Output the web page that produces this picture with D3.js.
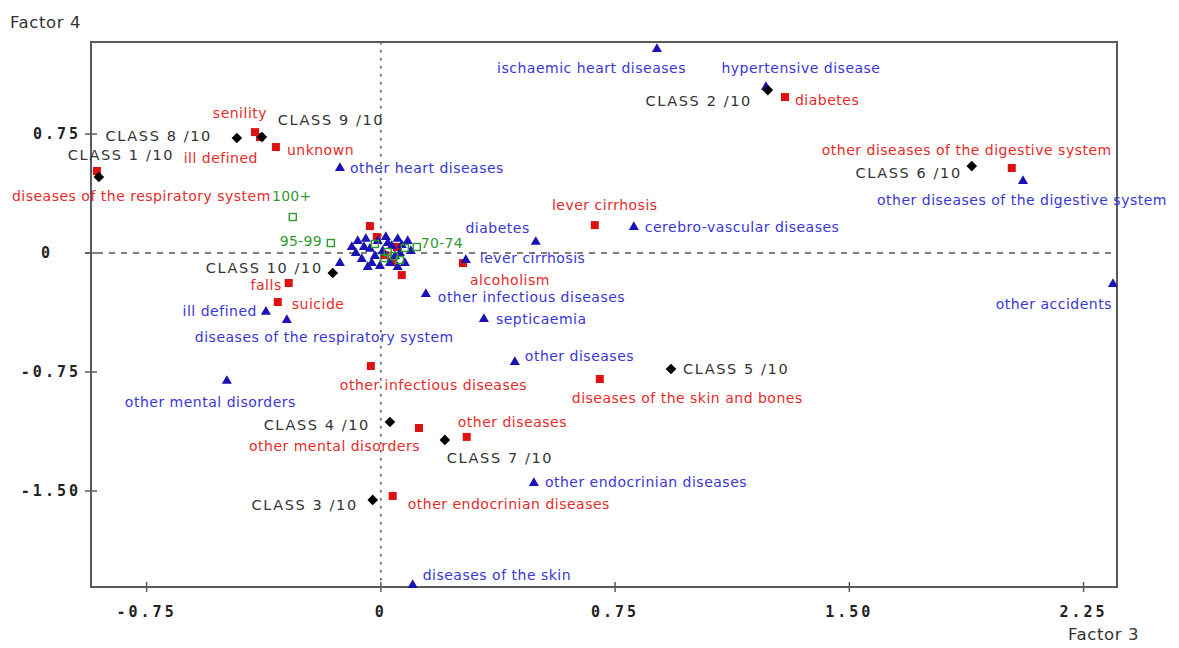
<!DOCTYPE html>
<html>
<head>
<meta charset="utf-8">
<script src="https://cdn.jsdelivr.net/npm/d3@7/dist/d3.min.js"></script>
<style>
  html, body { margin: 0; padding: 0; background: #fff; }
  svg { display: block; }
</style>
</head>
<body>
<svg id="chart" width="1179" height="648"></svg>
<script>
// ---- Data: factorial map, Factor 3 (horizontal) x Factor 4 (vertical) ----

// Classes (black diamonds)
const classNames = ["CLASS 1 /10", "CLASS 2 /10", "CLASS 3 /10", "CLASS 4 /10", "CLASS 5 /10",
                    "CLASS 6 /10", "CLASS 7 /10", "CLASS 8 /10", "CLASS 9 /10", "CLASS 10 /10"];
const classX = [-0.903, 1.239, -0.026, 0.029, 0.929, 1.892, 0.205, -0.461, -0.381, -0.154];
const classY = [0.479, 1.027, -1.556, -1.065, -0.731, 0.548, -1.178, 0.725, 0.731, -0.126];

// Causes of death, first set (red squares)
const redNames = ["senility", "ill defined", "unknown", "diseases of the respiratory system", "diabetes",
                  "other diseases of the digestive system", "lever cirrhosis", "alcoholism", "falls", "suicide",
                  "other infectious diseases", "diseases of the skin and bones", "other diseases",
                  "other mental disorders", "other endocrinian diseases",
                  "", "", "", "", "", ""];
const redX = [-0.403, -0.387, -0.336, -0.909, 1.294, 2.020, 0.685, 0.263, -0.295, -0.330,
              -0.032, 0.701, 0.275, 0.122, 0.038,
              -0.035, 0.067, -0.013, 0.013, 0.035, 0.051];
const redY = [0.762, 0.731, 0.668, 0.517, 0.983, 0.536, 0.176, -0.063, -0.189, -0.309,
              -0.712, -0.794, -1.159, -1.103, -1.531,
              0.170, -0.139, 0.101, -0.013, -0.057, 0.038];

// Causes of death, second set (blue triangles)
const blueNames = ["ischaemic heart diseases", "hypertensive disease", "other heart diseases",
                   "other diseases of the digestive system", "diabetes", "cerebro-vascular diseases",
                   "lever cirrhosis", "other accidents", "other infectious diseases", "septicaemia",
                   "ill defined", "diseases of the respiratory system", "other diseases",
                   "other mental disorders", "other endocrinian diseases", "diseases of the skin",
                   "", "", "", "", "", "", "", "", "", "", "", "", "", "", "", "", "", "", "",
                   "", "", "", "", "", "", ""];
const blueX = [0.884, 1.233, -0.131, 2.056, 0.496, 0.810, 0.272, 2.344, 0.144, 0.330,
               -0.368, -0.301, 0.429, -0.493, 0.490, 0.102,
               -0.131, -0.074, -0.080, -0.061, -0.035, -0.029, -0.010, 0.006, 0.016, 0.029,
               0.035, 0.054, 0.061, 0.077, 0.086, 0.096, -0.048, -0.003, 0.045,
               -0.093, -0.054, -0.019, 0.022, 0.067, -0.042, 0.054];
const blueY = [1.292, 1.052, 0.542, 0.460, 0.076, 0.170, -0.038, -0.189, -0.252, -0.410,
               -0.365, -0.416, -0.681, -0.800, -1.443, -2.086,
               -0.057, 0.082, 0.006, -0.032, 0.032, -0.057, 0.082, 0.019, 0.107, -0.057,
               0.050, 0.095, 0.006, -0.057, 0.082, 0.019, 0.095, -0.076, -0.013,
               0.044, 0.044, -0.013, 0.069, 0.057, -0.082, -0.082];

// Age groups (green open squares)
const ageNames = ["100+", "95-99", "70-74", "", "", "", "", "", ""];
const ageX = [-0.282, -0.160, 0.115, 0.022, 0.061, 0.077, 0.042, -0.019, 0.010];
const ageY = [0.227, 0.063, 0.038, 0.006, -0.044, 0.032, -0.019, 0.057, -0.032];

// Axis ticks
const xTicks = [-0.75, 0, 0.75, 1.5, 2.25];
const xTickLabels = ["-0.75", "0", "0.75", "1.50", "2.25"];
const yTicks = [0.75, 0, -0.75, -1.5];
const yTickLabels = ["0.75", "0", "-0.75", "-1.50"];

// ---- Label placement (pixel offsets from the marker, text anchor) ----
const classLabelPos = {
  "CLASS 1 /10": [-31, -22, "start"], "CLASS 2 /10": [-16, 11, "end"], "CLASS 3 /10": [-15, 5, "end"],
  "CLASS 4 /10": [-20, 3, "end"], "CLASS 5 /10": [12, 0, "start"], "CLASS 6 /10": [-10, 7, "end"],
  "CLASS 7 /10": [2, 18, "start"], "CLASS 8 /10": [-25, -2, "end"], "CLASS 9 /10": [16, -17, "start"],
  "CLASS 10 /10": [-10, -5, "end"]
};
const redLabelPos = {
  "senility": [-15, -19, "middle"], "ill defined": [-2, 21, "end"], "unknown": [11, 3, "start"],
  "diseases of the respiratory system": [-85, 25, "start"], "diabetes": [10, 3, "start"],
  "other diseases of the digestive system": [100, -18, "end"], "lever cirrhosis": [10, -20, "middle"],
  "alcoholism": [7, 17, "start"], "falls": [-7, 2, "end"], "suicide": [14, 2, "start"],
  "other infectious diseases": [-31, 19, "start"], "diseases of the skin and bones": [-28, 19, "start"],
  "other diseases": [-9, -15, "start"], "other mental disorders": [1, 18, "end"],
  "other endocrinian diseases": [15, 8, "start"]
};
const blueLabelPos = {
  "ischaemic heart diseases": [29, 20, "end"], "hypertensive disease": [35, -18, "middle"],
  "other heart diseases": [10, 1, "start"], "other diseases of the digestive system": [144, 20, "end"],
  "diabetes": [-6, -13, "end"], "cerebro-vascular diseases": [11, 1, "start"],
  "lever cirrhosis": [14, -1, "start"], "other accidents": [-1, 21, "end"],
  "other infectious diseases": [12, 4, "start"], "septicaemia": [12, 1, "start"],
  "ill defined": [-9, 0, "end"], "diseases of the respiratory system": [-92, 18, "start"],
  "other diseases": [10, -5, "start"], "other mental disorders": [-102, 22, "start"],
  "other endocrinian diseases": [11, 0, "start"], "diseases of the skin": [10, -9, "start"]
};
const ageLabelPos = {
  "100+": [-1, -21, "middle"], "95-99": [-9, -2, "end"], "70-74": [4, -4, "start"]
};

// ---- Colours ----
const RED = "#dd1111", RED_TXT = "#e62a2a";
const BLUE = "#1a12b4", BLUE_TXT = "#3a36d6";
const GREEN = "#2f9a2f";
const CLASS_TXT = "#333333";
const AXIS = "#5a5a5a";

// ---- Layout ----
const svg = d3.select("#chart");
const plot = { left: 91, right: 1117, top: 42, bottom: 587 };

const x = d3.scaleLinear().domain([-0.928, 2.357]).range([plot.left, plot.right]);
const y = d3.scaleLinear().domain([-2.105, 1.33]).range([plot.bottom, plot.top]);

const zip = (names, xs, ys) => names.map((n, i) => ({ name: n, x: xs[i], y: ys[i] }));
const classes = zip(classNames, classX, classY);
const reds = zip(redNames, redX, redY);
const blues = zip(blueNames, blueX, blueY);
const ages = zip(ageNames, ageX, ageY);

// Zero reference lines
svg.append("line")
  .attr("x1", plot.left - 6).attr("x2", plot.right)
  .attr("y1", y(0)).attr("y2", y(0))
  .attr("stroke", "#555").attr("stroke-width", 1.5)
  .attr("stroke-dasharray", "6,6");
svg.append("line")
  .attr("x1", x(0)).attr("x2", x(0))
  .attr("y1", plot.top).attr("y2", plot.bottom)
  .attr("stroke", "#555").attr("stroke-width", 1.5)
  .attr("stroke-dasharray", "2.5,5.5");

// Frame
svg.append("rect")
  .attr("x", plot.left).attr("y", plot.top)
  .attr("width", plot.right - plot.left).attr("height", plot.bottom - plot.top)
  .attr("fill", "none").attr("stroke", AXIS).attr("stroke-width", 2);

// Ticks and tick labels
const tickFont = "'DejaVu Sans Mono', 'Liberation Mono', monospace";
xTicks.forEach((t, i) => {
  svg.append("line")
    .attr("x1", x(t)).attr("x2", x(t))
    .attr("y1", plot.bottom - 5).attr("y2", plot.bottom + 5)
    .attr("stroke", AXIS).attr("stroke-width", 1.5);
  svg.append("text")
    .attr("x", x(t)).attr("y", 617)
    .attr("text-anchor", "middle")
    .attr("font-family", tickFont).attr("font-weight", "bold")
    .attr("font-size", 15).attr("letter-spacing", 3)
    .attr("fill", "#222")
    .text(xTickLabels[i]);
});
yTicks.forEach((t, i) => {
  svg.append("line")
    .attr("x1", plot.left - 6).attr("x2", plot.left + 6)
    .attr("y1", y(t)).attr("y2", y(t))
    .attr("stroke", AXIS).attr("stroke-width", 1.5);
  const isZero = t === 0;
  svg.append("text")
    .attr("x", isZero ? 47 : 81).attr("y", y(t))
    .attr("dy", "0.36em")
    .attr("text-anchor", isZero ? "middle" : "end")
    .attr("font-family", tickFont).attr("font-weight", "bold")
    .attr("font-size", 15).attr("letter-spacing", 3)
    .attr("fill", "#222")
    .text(yTickLabels[i]);
});

// Axis titles
const labelFont = "'DejaVu Sans', Verdana, sans-serif";
svg.append("text").attr("x", 10).attr("y", 28)
  .attr("font-family", labelFont).attr("font-size", 16.5).attr("letter-spacing", 0.6)
  .attr("fill", "#333")
  .text("Factor 4");
svg.append("text").attr("x", 1068).attr("y", 640)
  .attr("font-family", labelFont).attr("font-size", 16.5).attr("letter-spacing", 0.6)
  .attr("fill", "#333")
  .text("Factor 3");

// ---- Markers ----
const gMarks = svg.append("g");

// red squares
gMarks.selectAll("rect.red").data(reds).join("rect")
  .attr("class", "red")
  .attr("x", d => x(d.x) - 4).attr("y", d => y(d.y) - 4)
  .attr("width", 8).attr("height", 8)
  .attr("fill", RED);

// blue triangles
const tri = d3.symbol().type(d3.symbolTriangle).size(44);
gMarks.selectAll("path.blue").data(blues).join("path")
  .attr("class", "blue")
  .attr("transform", d => `translate(${x(d.x)},${y(d.y) + 1})`)
  .attr("d", tri)
  .attr("fill", BLUE);

// green open squares
gMarks.selectAll("rect.age").data(ages).join("rect")
  .attr("class", "age")
  .attr("x", d => x(d.x) - 3.5).attr("y", d => y(d.y) - 3.5)
  .attr("width", 7).attr("height", 7)
  .attr("fill", "none").attr("stroke", GREEN).attr("stroke-width", 1.4);

// black diamonds
const diamond = d3.symbol().type(d3.symbolDiamond2).size(72);
gMarks.selectAll("path.cls").data(classes).join("path")
  .attr("class", "cls")
  .attr("transform", d => `translate(${x(d.x)},${y(d.y)})`)
  .attr("d", diamond)
  .attr("fill", "#000");

// ---- Labels ----
function drawLabels(data, pos, color, opts) {
  svg.append("g").selectAll("text")
    .data(data.filter(d => d.name && pos[d.name]))
    .join("text")
    .attr("x", d => x(d.x) + pos[d.name][0])
    .attr("y", d => y(d.y) + pos[d.name][1])
    .attr("dy", "0.36em")
    .attr("text-anchor", d => pos[d.name][2])
    .attr("font-family", labelFont)
    .attr("font-size", opts.size)
    .attr("letter-spacing", opts.spacing)
    .attr("fill", color)
    .style("white-space", "pre")
    .text(d => d.name);
}
drawLabels(reds, redLabelPos, RED_TXT, { size: 14, spacing: 0.5 });
drawLabels(blues, blueLabelPos, BLUE_TXT, { size: 14, spacing: 0.5 });
drawLabels(ages, ageLabelPos, GREEN, { size: 14, spacing: 0.3 });
drawLabels(classes, classLabelPos, CLASS_TXT, { size: 14.5, spacing: 1.6 });
</script>
</body>
</html>
